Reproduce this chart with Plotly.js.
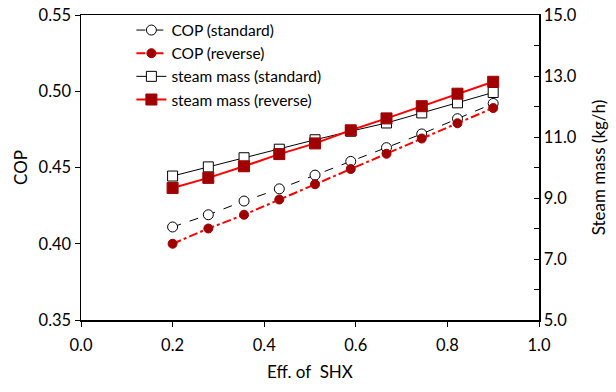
<!DOCTYPE html>
<html>
<head>
<meta charset="utf-8">
<script src="https://cdn.plot.ly/plotly-3.0.1.min.js"></script>
<style>html,body{margin:0;padding:0;background:#fff;}#chart{width:616px;height:392px;}</style>
</head>
<body>
<div id="chart"></div>
<script>
const effSHX = [0.2, 0.278, 0.356, 0.433, 0.511, 0.589, 0.667, 0.744, 0.822, 0.9];
const copStandard = [0.411, 0.419, 0.428, 0.436, 0.445, 0.454, 0.463, 0.472, 0.482, 0.492];
const copReverse = [0.400, 0.410, 0.419, 0.429, 0.439, 0.449, 0.459, 0.469, 0.479, 0.489];
const steamStandard = [9.72, 10.02, 10.32, 10.60, 10.91, 11.19, 11.46, 11.79, 12.12, 12.46];
const steamReverse = [9.33, 9.66, 10.04, 10.44, 10.79, 11.22, 11.61, 12.01, 12.42, 12.81];
const seriesNames = ['COP (standard)', 'COP (reverse)', 'steam mass (standard)', 'steam mass (reverse)'];
const rightTickVals = [5, 6, 7, 8, 9, 10, 11, 12, 13, 14, 15];
const rightTickText = ['5.0', '', '7.0', '', '9.0', '', '11.0', '', '13.0', '', '15.0'];

const FONT = 'Lato, sans-serif';
const DARKRED = '#A00000';

const traces = [
  {x: effSHX, y: copStandard, name: seriesNames[0], mode: 'lines+markers', yaxis: 'y',
   line: {color: '#000', width: 1, dash: 'dash'},
   marker: {symbol: 'circle', size: 10, color: '#fff', line: {color: '#000', width: 1}}},
  {x: effSHX, y: copReverse, name: seriesNames[1], mode: 'lines+markers', yaxis: 'y',
   line: {color: '#FF0000', width: 2, dash: 'dashdot'},
   marker: {symbol: 'circle', size: 9, color: DARKRED, line: {color: DARKRED, width: 1}}},
  {x: effSHX, y: steamStandard, name: seriesNames[2], mode: 'lines+markers', yaxis: 'y2',
   line: {color: '#000', width: 1},
   marker: {symbol: 'square', size: 10, color: '#fff', line: {color: '#000', width: 1}}},
  {x: effSHX, y: steamReverse, name: seriesNames[3], mode: 'lines+markers', yaxis: 'y2',
   line: {color: '#FF0000', width: 2},
   marker: {symbol: 'square', size: 11, color: DARKRED, line: {color: DARKRED, width: 1}}}
];

const layout = {
  width: 616, height: 392,
  margin: {l: 81, r: 77, t: 15, b: 72},
  paper_bgcolor: '#fff', plot_bgcolor: '#fff',
  font: {family: FONT, size: 15, color: '#000'},
  showlegend: true,
  legend: {x: 0.11, y: 1.005, xanchor: 'left', yanchor: 'top', bgcolor: 'rgba(0,0,0,0)',
           font: {family: FONT, size: 15.5, color: '#000'}, tracegroupgap: 0},
  xaxis: {range: [0, 1.0], dtick: 0.2, tick0: 0, tickformat: '.1f',
          showgrid: false, zeroline: false, showline: true, linecolor: '#000', linewidth: 1.5,
          mirror: true, ticks: 'outside', ticklen: 5, tickcolor: '#000', tickwidth: 1,
          ticklabelstandoff: 5,
          tickfont: {family: FONT, size: 16.5},
          title: {text: 'Eff. of&nbsp; SHX', font: {family: FONT, size: 17}, standoff: 12}},
  yaxis: {range: [0.35, 0.55], dtick: 0.05, tickformat: '.2f',
          showgrid: false, zeroline: false, showline: true, linecolor: '#000', linewidth: 1.5,
          ticks: 'outside', ticklen: 5, tickcolor: '#000', tickwidth: 1,
          tickfont: {family: FONT, size: 16.5},
          title: {text: 'COP', font: {family: FONT, size: 17}, standoff: 6}},
  yaxis2: {range: [5, 15], overlaying: 'y', side: 'right', tickmode: 'array',
           tickvals: rightTickVals, ticktext: rightTickText,
           showgrid: false, zeroline: false, showline: true, linecolor: '#000', linewidth: 1.5,
           ticks: 'inside', ticklen: 5, tickcolor: '#000', tickwidth: 1,
           tickfont: {family: FONT, size: 16.5},
           title: {text: 'Steam mass (kg/h)', font: {family: FONT, size: 17}, standoff: 17}}
};

Plotly.newPlot('chart', traces, layout, {displayModeBar: false, staticPlot: true});
</script>
</body>
</html>
